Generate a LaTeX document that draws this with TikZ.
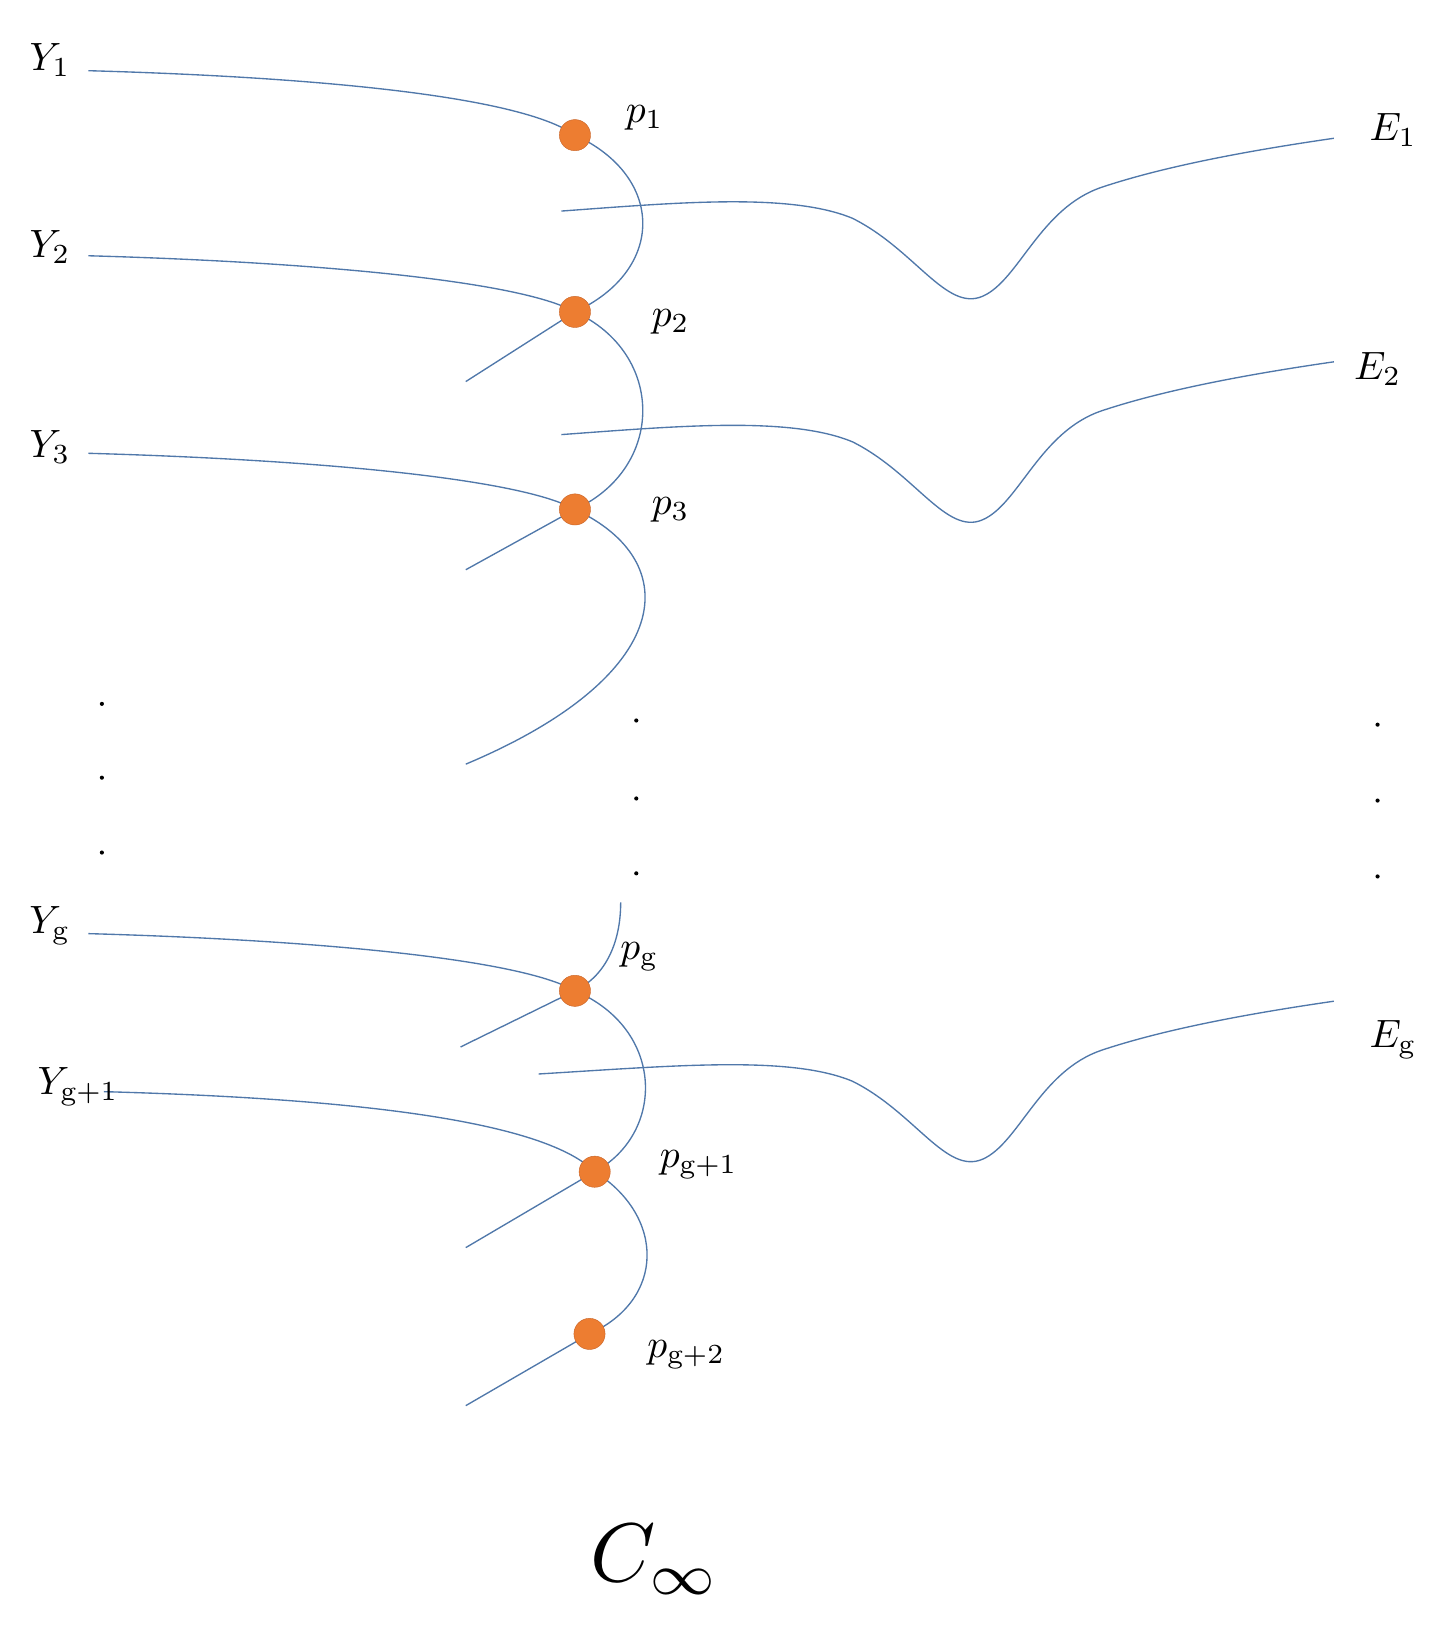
\documentclass[tikz,border=0pt]{standalone}
\begin{document}
\begin{tikzpicture}[x=1pt,y=-1pt,
  crv/.style={draw={rgb,255:red,80;green,120;blue,170},line width=1.3pt},
  pt/.style={circle,fill={rgb,255:red,237;green,125;blue,49},draw={rgb,255:red,200;green,100;blue,40},inner sep=0,minimum size=30pt},
  lbl/.style={scale=3.8},
  dt/.style={circle,fill=black,inner sep=0,minimum size=4pt}]
\useasboundingbox (0,0) rectangle (1390,1563);
\coordinate (a2) at (448,367);
\coordinate (a3) at (448,548);
\coordinate (a4) at (448,735);
\coordinate (ag) at (443,1007);
\coordinate (ag1) at (448,1200);
\coordinate (ag2) at (448,1352);
\coordinate (top) at (597,868);
\coordinate (c1) at (553,130);
\coordinate (c2) at (553,300);
\coordinate (c3) at (553,490);
\coordinate (cg) at (553,953);
\coordinate (cg1) at (572,1127);
\coordinate (cg2) at (567,1283);
% chain
\draw[crv] (c1) .. controls (640,170) and (640,260) .. (c2) -- (a2);
\draw[crv] (c2) .. controls (640,340) and (640,450) .. (c3) -- (a3);
\draw[crv] (c3) .. controls (660,540) and (650,650) .. (a4);
\draw[crv] (top) .. controls (597,910) and (580,940) .. (cg) -- (ag);
\draw[crv] (cg) .. controls (640,990) and (640,1090) .. (cg1) -- (ag1);
\draw[crv] (cg1) .. controls (640,1170) and (640,1250) .. (cg2) -- (ag2);
% Y lines
\coordinate (y1) at (85,68);
\coordinate (y2) at (85,246);
\coordinate (y3) at (85,436);
\coordinate (yg) at (85,898);
\coordinate (yg1) at (100,1050);
\draw[crv] (y1) .. controls (300,74) and (500,92) .. (c1);
\draw[crv] (y2) .. controls (300,252) and (500,270) .. (c2);
\draw[crv] (y3) .. controls (300,442) and (500,460) .. (c3);
\draw[crv] (yg) .. controls (300,904) and (500,922) .. (cg);
\draw[crv] (yg1) .. controls (320,1056) and (520,1075) .. (cg1);
% E curves
\foreach \n/\yy/\xs in {e1/0/540, e2/215/540, eg/830/518}{
  \coordinate (\n s) at (\xs,203+\yy);
  \coordinate (\n e) at (1283,133+\yy);
  \draw[crv] (\n s) .. controls (650,195+\yy) and (760,185+\yy) .. (820,210+\yy)
     .. controls (880,240+\yy) and (910,300+\yy) .. (945,285+\yy)
     .. controls (980,270+\yy) and (1000,200+\yy) .. (1060,180+\yy)
     .. controls (1120,160+\yy) and (1200,145+\yy) .. (\n e);
}
\node[pt] (p1) at (c1) {};
\node[pt] (p2) at (c2) {};
\node[pt] (p3) at (c3) {};
\node[pt] (pg) at (cg) {};
\node[pt] (pg1) at (cg1) {};
\node[pt] (pg2) at (cg2) {};
% dots
\foreach \x/\y [count=\i] in {98/677,98/748,98/820,612/693,612/768,612/840,1325/697,1325/770,1325/843}
  \node[dt] (d\i) at (\x,\y) {};
% labels
\node[lbl] (lY1) at (48,58) {$Y_1$};
\node[lbl] (lY2) at (48,238) {$Y_2$};
\node[lbl] (lY3) at (48,430) {$Y_3$};
\node[lbl] (lYg) at (48,890) {$Y_{\mathrm{g}}$};
\node[lbl] (lYg1) at (75,1045) {$Y_{\mathrm{g+1}}$};
\node[lbl] (lp1) at (620,113) {$p_1$};
\node[lbl] (lp2) at (645,310) {$p_2$};
\node[lbl] (lp3) at (645,490) {$p_3$};
\node[lbl] (lpg) at (615,920) {$p_{\mathrm{g}}$};
\node[lbl] (lpg1) at (672,1120) {$p_{\mathrm{g+1}}$};
\node[lbl] (lpg2) at (660,1303) {$p_{\mathrm{g+2}}$};
\node[lbl] (lE1) at (1340,125) {$E_1$};
\node[lbl] (lE2) at (1325,355) {$E_2$};
\node[lbl] (lEg) at (1340,1000) {$E_{\mathrm{g}}$};
\node[scale=8] (lC) at (630,1500) {$C_\infty$};
\end{tikzpicture}
\end{document}
